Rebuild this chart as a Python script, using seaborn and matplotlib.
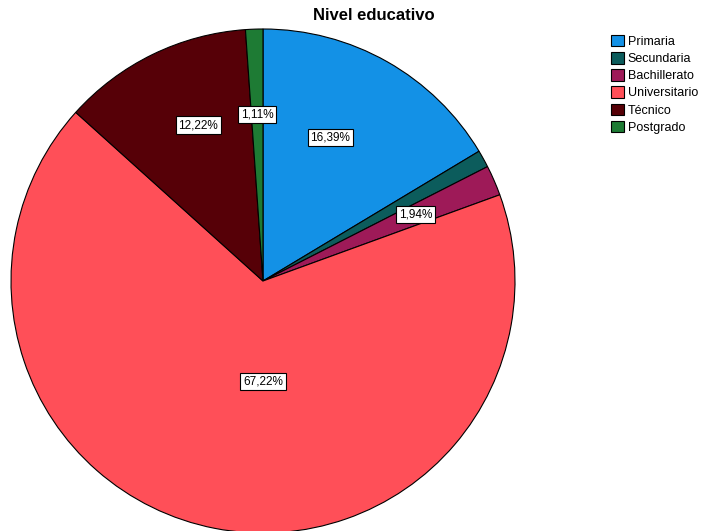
import numpy as np
import matplotlib
matplotlib.use("Agg")
import matplotlib.pyplot as plt
import seaborn as sns
from matplotlib.patches import Patch

categories = ["Primaria", "Secundaria", "Bachillerato", "Universitario", "Técnico", "Postgrado"]
percentages = [16.39, 1.11, 1.94, 67.22, 12.22, 1.11]
label_texts = ["16,39%", None, "1,94%", "67,22%", "12,22%", "1,11%"]
label_radius = [0.63, 0.0, 0.66, 0.40, 0.67, 0.66]
label_angle_shift = [4.5, 0.0, 0.0, 11.0, -3.5, 0.0]
colors_hex = ["#1391E6", "#0C5C5C", "#9E1A58", "#FF4F58", "#560007", "#1E7B34"]

sns.set_style("white")
plt.rcParams['font.family'] = ['Liberation Sans', 'DejaVu Sans']
plt.rcParams['text.color'] = 'black'

palette = sns.color_palette(colors_hex)

fig = plt.figure(figsize=(7.04, 5.31), dpi=100)
R_px = 252
cx, cy_top = 263, 281
W, H = 704, 531
ax = fig.add_axes([(cx - R_px) / W, (H - cy_top - R_px) / H, 2 * R_px / W, 2 * R_px / H])

wedges, _ = ax.pie(percentages, colors=palette, startangle=90, counterclock=False,
                   radius=1.0, wedgeprops=dict(edgecolor="black", linewidth=0.8))
ax.set_xlim(-1, 1)
ax.set_ylim(-1, 1)
ax.set_aspect("equal")
ax.axis("off")

for w, txt, r, sh in zip(wedges, label_texts, label_radius, label_angle_shift):
    if txt is None:
        continue
    mid = np.deg2rad((w.theta1 + w.theta2) / 2 + sh)
    x, y = r * np.cos(mid), r * np.sin(mid)
    ax.text(x, y, txt, ha="center", va="center", fontsize=8.5, color="black",
            bbox=dict(boxstyle="square,pad=0.22", facecolor="white", edgecolor="black", linewidth=0.8))

fig.text(374 / W, 1 - 16 / H, "Nivel educativo", ha="center", va="center",
         fontsize=12, fontweight="bold", color="black")

handles = [Patch(facecolor=c, edgecolor="black", linewidth=0.8, label=l) for c, l in zip(palette, categories)]
leg = fig.legend(handles=handles, loc="upper left", bbox_to_anchor=(602 / W, 1 - 26 / H),
                 frameon=False, fontsize=9, handlelength=1.05, handleheight=1.05,
                 handletextpad=0.3, labelspacing=0.33, borderpad=0.2)
for t in leg.get_texts():
    t.set_color("black")

fig.savefig("out.png", dpi=100)
